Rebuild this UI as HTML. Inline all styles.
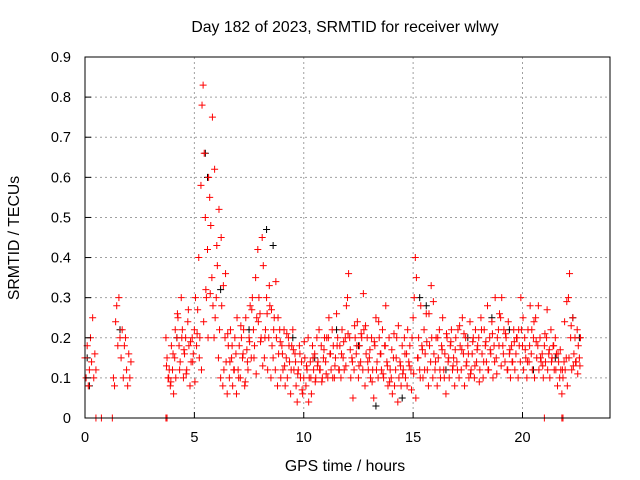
<!DOCTYPE html>
<html><head><meta charset="utf-8"><style>
body{margin:0;background:#fff;}
svg{display:block;font-family:"Liberation Sans",sans-serif;}
</style></head><body>
<svg id="chart" width="640" height="480" xmlns="http://www.w3.org/2000/svg">
<rect width="640" height="480" fill="#fff"/>
<text x="345" y="32" font-size="15.8" text-anchor="middle">Day 182 of 2023, SRMTID for receiver wlwy</text>
<text transform="translate(19,238) rotate(-90)" font-size="15.8" text-anchor="middle">SRMTID / TECUs</text>
<text x="345" y="471" font-size="15.8" text-anchor="middle">GPS time / hours</text>
<g id="grid"></g><g id="marks"></g>
<rect x="85" y="57" width="525" height="361" fill="none" stroke="#000" stroke-width="1"/>
<g id="ticks"></g>
</svg>
<script>
const xTicks=[0,5,10,15,20];
const yTicks=[0,0.1,0.2,0.3,0.4,0.5,0.6,0.7,0.8,0.9];
const seg1Start=0.0, seg1Vals=[.15,.1,.18,.08,.12,.2,.14,.25,.1,.16,.12];
const seg2Start=1.3, seg2Vals=[.1,.08,.24,.28,.18,.3,.2,.15,.22,.1,.18,.2,.12,.08,.16,.1,.14];
const seg3Start=3.7, seg3Vals=[.2,.15,.1,.12,.08,.18,
.12,.06,.15,.1,.2,.25,.18,.14,.3,.22,.1,.16,.2,.12,.24,.18,.08,.14,.2,.16,
.22,.3,.18,.27,.4,.2,.58,.78,.83,.66,.5,.3,.42,.6,.55,.48,.35,.28,.2,.25,
.3,.38,.15,.22,.1,.28,.08,.12,.2,.14,.06,.18,.1,.22,.15,.08,.12,.2,.16,.25,
.12,.18,.1,.2,.15,.22,.08,.25,.17,.12,.2,.28,.15,.3,.22,.18,.35,.25,.42,.3,
.26,.2,.45,.38,.15,.22,.3,.12,.2,.28,.1,.18,.15,.25,.12,.2,.08,.16,.22,.1,
.18,.12,.22,.08,.15,.1,.2,.14,.06,.18,.22,.12,.16,.08,.04,.12,.18,.1,.14,.06,
.1,.15,.08,.12,.2,.1,.14,.06,.18,.12,.16,.1,.2,.14,.22,.12,.18,.1,.15,.2,
.14,.2,.1,.25,.16,.12,.22,.18,.1,.15,.26,.2,.12,.18,.1,.22,.15,.12,.2,.28,
.3,.36,.2,.1,.15,.05,.12,.2,.16,.24,.1,.18,.14,.2,.12,.22,.08,.16,.2,.12,
.15,.1,.2,.12,.05,.18,.25,.14,.1,.2,.16,.12,.22,.1,.18,.28,.14,.08,.2,.12,
.1,.06,.15,.08,.12,.2,.04,.1,.14,.08,.18,.12,.2,.1,.16,.22,.14,.18,.12,.2,
.25,.3,.4,.35,.15,.2,.12,.28,.18,.1,.22,.16,.26,.12,.08,.18,.14,.2,.1,.16,
.12,.2,.08,.15,.22,.1,.18,.25,.12,.16,.06,.2,.14,.1,.18,.22,.12,.15,.08,.2,
.14,.22,.1,.18,.12,.25,.16,.08,.2,.14,.18,.1,.24,.12,.16,.2,.1,.22,.14,.18,
.2,.12,.25,.16,.1,.22,.18,.14,.28,.12,.2,.16,.24,.1,.18,.3,.15,.2,.22,.26,
.25,.3,.18,.22,.14,.2,.12,.24,.16,.1,.18,.14,.22,.12,.16,.2,.1,.18,.14,.22,
.18,.12,.2,.15,.1,.22,.14,.28,.16,.12,.2,.1,.25,.15,.18,.12,.2,.14,.16,.1,
.18,.14,.2,.12,.16,.1,.22,.15,.18,.12,.2,.16,.08,.14,.1,.12,.06,.1,.14,.12,
.15,.08,.3,.36,.2,.12,.25,.16,.2,.14,.22,.18,.15,.2];
const seg4Start=3.725, seg4Vals=[.13,.1,.09,.16,.22,.26,.12,.2,.17,.11,.27,.19,.14,.09,.21,.15,
.12,.24,.32,.2,.31,.75,.62,.43,.52,.45,.33,.36,.21,.14,.18,.12,.06,.1,.23,.16,.09,.14,.19,.27,
.15,.11,.24,.19,.13,.2,.26,.33,.27,.22,.34,.25,.19,.16,.13,.21,.18,.12,.17,.14,
.11,.16,.07,.19,.13,.04,.1,.15,.09,.13,.12,.09,.17,.11,.2,.16,.1,.13,.18,.12,
.16,.19,.13,.21,.17,.14,.23,.18,.13,.21,.31,.23,.14,.17,.09,.19,.12,.24,.16,.11,
.18,.13,.09,.17,.21,.15,.23,.13,.11,.16,.08,.13,.07,.11,.05,.15,.1,.17,.12,.19,
.26,.33,.29,.14,.2,.12,.17,.1,.21,.15,.19,.13,.17,.12,.23,.17,.21,.13,.16,.11,
.19,.13,.17,.09,.22,.14,.19,.12,.17,.21,.14,.11,.18,.13,.16,.21,.12,.17,.14,.19,
.2,.22,.3,.25,.17,.14,.18,.22,.24,.19,.28,.15,.13,.21,.27,.17,.14,.18,.12,.16,
.17,.12,.24,.29,.15,.23,.13,.14,.11,.13];
const seg4Step=0.1;
const zeroTimes=[0.5,0.75,1.25,3.7,3.75,21,21.8,21.85];
const blackTimes=[0.1,0.2,1.6,4.2,5.5,5.6,6.2,7.5,8.3,8.6,9.5,10.5,11.5,12.5,13.3,14.5,15.3,15.6,16.5,17.5,18.6,19.4,20.5,21.5,22.3,22.6];
const blackVals=[.15,.08,.22,.2,.66,.6,.32,.22,.47,.43,.2,.15,.22,.18,.03,.05,.3,.28,.12,.2,.25,.22,.12,.15,.25,.2];
const step=0.05;
const NS='http://www.w3.org/2000/svg';
const X=t=>85+t*525/24, Y=v=>418-v*361/0.9;
const grid=document.getElementById('grid'),ticks=document.getElementById('ticks'),marks=document.getElementById('marks');
function mk(tag,attrs,parent){const e=document.createElementNS(NS,tag);for(const k in attrs)e.setAttribute(k,attrs[k]);parent.appendChild(e);return e;}
xTicks.forEach(t=>{
  if(t>0){const g=mk('line',{x1:X(t),x2:X(t),y1:57,y2:418,stroke:'#a0a0a0','stroke-dasharray':'2,3'},grid);
  
  }
  const l=mk('line',{x1:X(t),x2:X(t),y1:418,y2:412,stroke:'#000'},ticks);
  
  
  const tx=mk('text',{x:X(t),y:442,'font-size':14.5,'text-anchor':'middle'},ticks);tx.textContent=t;
  
  
});
yTicks.forEach(v=>{
  if(v>0&&v<0.9){const g=mk('line',{x1:85,x2:610,y1:Y(v),y2:Y(v),stroke:'#a0a0a0','stroke-dasharray':'2,3'},grid);
  
  }
  const l=mk('line',{x1:85,x2:91,y1:Y(v),y2:Y(v),stroke:'#000'},ticks);
  
  
  const tx=mk('text',{x:71,y:Y(v)+5,'font-size':14.5,'text-anchor':'end'},ticks);tx.textContent=v===0?'0':String(v);
  
  
});
function plus(t,v,color,name){
  const x=X(t),y=Y(v);
  const p=mk('path',{d:`M${x-3.5},${y}h7M${x},${y-3.5}v7`,stroke:color,'stroke-width':1,fill:'none'},marks);
  
  
}
blackTimes.forEach((t,i)=>plus(t,blackVals[i],'#000','black-point'));
[[seg1Start,seg1Vals,step],[seg2Start,seg2Vals,step],[seg3Start,seg3Vals,step],[seg4Start,seg4Vals,seg4Step]].forEach(([s,vals,st])=>{
  vals.forEach((v,i)=>plus(s+i*st,v,'#f00','red-point'));
});
zeroTimes.forEach(t=>plus(t,0,'#f00','zero-point'));
</script>
</body></html>
